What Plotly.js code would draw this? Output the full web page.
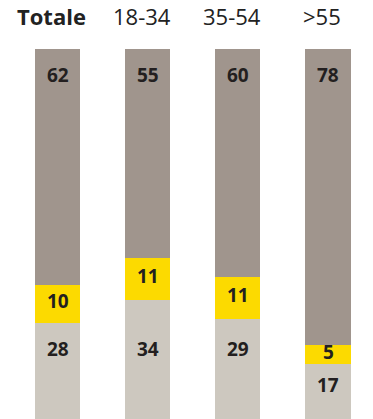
<!DOCTYPE html>
<html>
<head>
<meta charset="utf-8">
<script src="https://cdn.plot.ly/plotly-3.0.1.min.js"></script>
<style>html,body{margin:0;padding:0;background:#fff;}#chart{width:373px;height:419px;}</style>
</head>
<body>
<div id="chart"></div>
<script>
const categories = ["Totale", "18-34", "35-54", ">55"];
const bottomValues = [28, 34, 29, 17];
const middleValues = [10, 11, 11, 5];
const topValues = [62, 55, 60, 78];

const colBottom = "#cdc8bf";
const colMiddle = "#fcda00";
const colTop = "#a0958d";
const textCol = "#231f20";
const numFont = {family: "Open Sans", size: 19, color: textCol, weight: 700};

const x = categories.map((c, i) => i);

function barTrace(vals, color) {
  return {type: "bar", x: x, y: vals, width: 0.5, marker: {color: color, line: {width: 0}},
          hoverinfo: "skip", textposition: "none"};
}

const data = [barTrace(bottomValues, colBottom), barTrace(middleValues, colMiddle), barTrace(topValues, colTop)];

const annotations = [];
categories.forEach((c, i) => {
  annotations.push({x: i, y: 1, xref: "x", yref: "paper", yanchor: "bottom", yshift: 16, xshift: -6,
    text: i === 0 ? "<b>" + c + "</b>" : c, showarrow: false,
    font: {family: "Open Sans", size: 22, color: "#222"}});
  const b = bottomValues[i], m = middleValues[i], t = topValues[i];
  annotations.push({x: i, y: Math.min(21, b - 5.5), text: String(b), showarrow: false, font: numFont, yanchor: "middle"});
  annotations.push({x: i, y: b + m / 2, text: String(m), showarrow: false, font: numFont, yanchor: "middle", yshift: 3});
  annotations.push({x: i, y: b + m + t, text: String(t), showarrow: false, font: numFont, yanchor: "middle", yshift: -26});
});

const layout = {
  width: 373, height: 419,
  margin: {l: 0, r: 0, t: 49, b: 0, pad: 0},
  barmode: "stack",
  showlegend: false,
  paper_bgcolor: "#ffffff", plot_bgcolor: "#ffffff",
  xaxis: {range: [-0.644, 3.5], visible: false, fixedrange: true},
  yaxis: {range: [2.63, 100], visible: false, fixedrange: true},
  annotations: annotations
};

Plotly.newPlot("chart", data, layout, {displayModeBar: false, staticPlot: true});
</script>
</body>
</html>
